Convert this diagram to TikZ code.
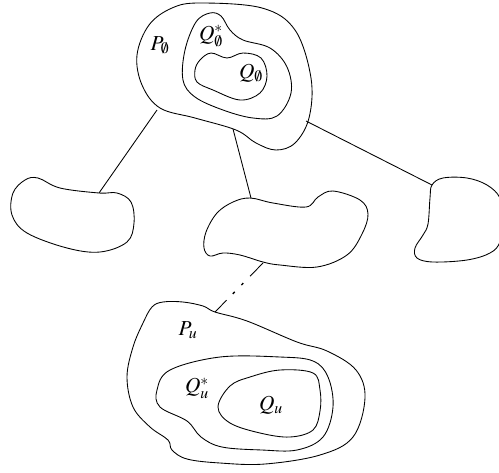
\documentclass[tikz,border=0pt]{standalone}
\usepackage{mathptmx}
\usetikzlibrary{calc}
\begin{document}
\begin{tikzpicture}[x=0.75pt,y=-0.75pt,
  blob/.style={draw, line width=0.65pt, smooth cycle, tension=0.6},
  edge/.style={line width=0.65pt},
  lab/.style={font=\fontsize{16}{18}\selectfont, inner sep=0pt}]
\useasboundingbox (0,0) rectangle (499,472);
\clip (0,0) rectangle (499,472);
% top blob P_empty
\draw[blob] plot coordinates {(200,3) (262,8) (295,30) (311,78) (309,118) (295,143) (276,150) (256,143) (236,130) (195,118) (160,108) (142,85) (137,55) (149,25) (172,8)};
% Q* empty
\draw[blob] plot coordinates {(210,13) (196,22) (185,50) (183,80) (195,97) (223,110) (253,118) (277,116) (291,93) (287,67) (270,48) (243,40) (230,30) (221,16)};
% Q empty
\draw[blob] plot coordinates {(200,60) (211,53) (227,58) (243,53) (261,58) (267,76) (260,93) (240,100) (213,90) (197,82) (195,70)};
% left blob
\draw[blob] plot coordinates {(38,178) (60,188) (99,193) (117,193) (131,202) (134,223) (127,242) (100,252) (67,248) (27,233) (12,215) (13,193) (25,180)};
% middle blob
\draw[blob] plot coordinates {(250,198) (273,203) (306,207) (318,197) (333,191) (360,200) (368,214) (362,234) (347,255) (317,267) (280,265) (263,262) (240,255) (223,253) (210,256) (204,248) (206,232) (217,213) (233,202)};
% right blob
\draw[blob] plot coordinates {(432,185) (443,178) (467,178) (487,185) (500,198) (504,220) (500,242) (490,253) (467,260) (433,262) (417,258) (415,248) (423,235) (428,224) (430,198)};
% P_u
\draw[blob] plot coordinates {(163,302) (183,302) (203,306) (215,312) (247,321) (297,342) (327,351) (356,370) (365,398) (353,437) (320,455) (265,464) (220,463) (187,459) (172,450) (168,440) (150,427) (133,407) (127,377) (133,347) (143,323) (152,307)};
% Q*_u
\draw[blob] plot coordinates {(280,357) (313,361) (328,377) (333,407) (323,437) (297,450) (262,450) (222,447) (201,437) (187,421) (160,407) (157,390) (170,370) (220,357)};
% Q_u
\draw[blob] plot coordinates {(218,407) (230,386) (250,377) (280,370) (313,373) (320,390) (320,411) (313,430) (290,437) (260,433) (230,423)};
% connector end points
\coordinate (tl) at (157,110); \coordinate (lb) at (99,193);
\coordinate (tm) at (233,129); \coordinate (mb) at (251,198);
\coordinate (tr) at (306,121); \coordinate (rb) at (432,185);
\coordinate (mu) at (263,263); \coordinate (pu) at (215,312);
\draw[edge] (tl) -- (lb);
\draw[edge] (tm) -- (mb);
\draw[edge] (tr) -- (rb);
\draw[edge] (mu) -- ($(mu)!0.27!(pu)$);
\draw[edge, line width=1pt] ($(mu)!0.41!(pu)$) -- ($(mu)!0.45!(pu)$);
\draw[edge, line width=1pt] ($(mu)!0.59!(pu)$) -- ($(mu)!0.63!(pu)$);
\draw[edge] ($(mu)!0.76!(pu)$) -- (pu);
% labels
\node[lab] (lPe) at (160,45) {$P_\emptyset$};
\node[lab] (lQse) at (211,36) {$Q^*_\emptyset$};
\node[lab] (lQe) at (251,73) {$Q_\emptyset$};
\node[lab] (lPu) at (188,330) {$P_u$};
\node[lab] (lQsu) at (197,388) {$Q^*_u$};
\node[lab] (lQu) at (271,405) {$Q_u$};
\end{tikzpicture}
\end{document}
